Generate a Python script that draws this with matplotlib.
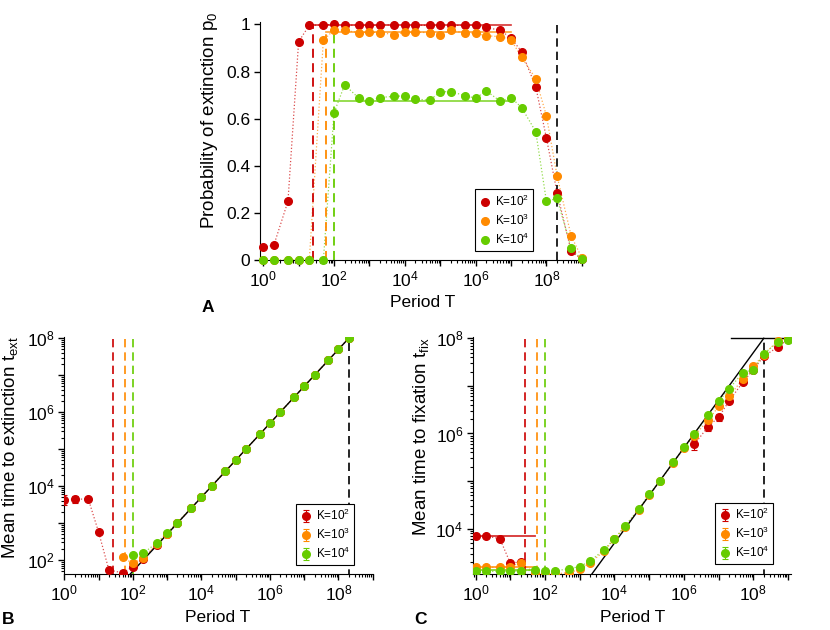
import numpy as np
import matplotlib
matplotlib.use('Agg')
from matplotlib import pyplot as plt
from matplotlib import ticker

plt.rcParams['font.family'] = ['Liberation Sans', 'DejaVu Sans']
plt.rcParams['mathtext.fontset'] = 'custom'
plt.rcParams['mathtext.rm'] = 'Liberation Sans'
plt.rcParams['mathtext.it'] = 'Liberation Sans:italic'
plt.rcParams['mathtext.default'] = 'regular'

nan = np.nan

# period grid
T = [1, 2, 5, 1e1, 2e1, 5e1, 1e2, 2e2, 5e2, 1e3, 2e3, 5e3, 1e4, 2e4, 5e4,
     1e5, 2e5, 5e5, 1e6, 2e6, 5e6, 1e7, 2e7, 5e7, 1e8, 2e8, 5e8, 1e9]

labels = ['K=10$^2$', 'K=10$^3$', 'K=10$^4$']
colors = ['#cc0000', '#ff8a00', '#66cc00']

# A: probability of extinction
p0_k2 = [0.055, 0.064, 0.25, 0.927, 0.996, 0.998, 1.0, 0.997, 0.997, 0.996, 0.997, 0.998, 0.997, 0.997,
         0.996, 0.996, 0.996, 0.996, 0.998, 0.987, 0.975, 0.942, 0.884, 0.735, 0.518, 0.286, 0.038, 0.004]
p0_k3 = [0, 0, 0, 0, 0, 0.933, 0.977, 0.975, 0.965, 0.967, 0.965, 0.957, 0.967, 0.967,
         0.965, 0.957, 0.975, 0.963, 0.962, 0.952, 0.948, 0.935, 0.86, 0.77, 0.612, 0.357, 0.103, 0.01]
p0_k4 = [0, 0, 0, 0, 0, 0, 0.625, 0.744, 0.687, 0.677, 0.69, 0.695, 0.697, 0.684,
         0.678, 0.714, 0.715, 0.698, 0.687, 0.718, 0.674, 0.69, 0.647, 0.545, 0.25, 0.262, 0.05, 0.003]
p0_plateau = [0.996, 0.967, 0.676]
plateau_T = [1e7, 1e7, 1e7]
dash_top = [1.0, 0.967, 0.96]

# critical periods (dashed lines)
T_crit = [26, 59, 100]
T_max = 2e8

# B: mean time to extinction
text_k2 = [4300, 4400, 4500, 570, 54, 45, 66, 110, 255, 500, 1000, 2500, 5000, 1.0e4,
           2.5e4, 5.0e4, 1.0e5, 2.5e5, 5.0e5, 1.0e6, 2.5e6, 5.0e6, 1.0e7, 2.5e7, 5.0e7, 1.0e8, nan, nan]
text_k2_err = [1300, 900, 450, 60, 5, 4, 6, 8, 15, 25, 40, 80, 150, 300,
               600, 1e3, 2e3, 5e3, 1e4, 2e4, 5e4, 1e5, 2e5, 5e5, 1e6, 2e6, nan, nan]
text_k3 = [nan, nan, nan, nan, nan, 118, 81, 112, 270, 510, 1020, 2550, 5050, 1.0e4,
           2.5e4, 5.0e4, 1.0e5, 2.5e5, 5.0e5, 1.0e6, 2.5e6, 5.0e6, 1.0e7, 2.5e7, 5.0e7, 1.0e8, nan, nan]
text_k3_err = [nan, nan, nan, nan, nan, 8, 6, 6, 10, 15, 25, 50, 100, 200,
               500, 1e3, 2e3, 5e3, 1e4, 2e4, 5e4, 1e5, 2e5, 5e5, 1e6, 2e6, nan, nan]
text_k4 = [nan, nan, nan, nan, nan, nan, 136, 152, 294, 548, 1030, 2600, 5100, 1.02e4,
           2.55e4, 5.1e4, 1.02e5, 2.5e5, 5.1e5, 1.0e6, 2.5e6, 5.1e6, 1.0e7, 2.5e7, 5.0e7, 1.0e8, nan, nan]
text_k4_err = [nan, nan, nan, nan, nan, nan, 6, 6, 10, 15, 25, 50, 100, 200,
               500, 1e3, 2e3, 5e3, 1e4, 2e4, 5e4, 1e5, 2e5, 5e5, 1e6, 2e6, nan, nan]
line_ext_T = [84, 2e8]
line_ext_t = [42, 1e8]

# C: mean time to fixation
tfix_k2 = [7200, 7000, 6200, 1900, 2000, nan, nan, nan, nan, nan, nan, nan, nan, nan,
           nan, nan, nan, nan, nan, 5.9e5, 1.4e6, 2.2e6, 4.8e6, 1.2e7, 2.2e7, 4.2e7, 6.5e7, 9.5e7]
tfix_k2_err = [300, 300, 300, 150, 150, nan, nan, nan, nan, nan, nan, nan, nan, nan,
               nan, nan, nan, nan, nan, 1.4e5, 2.5e5, 3.5e5, 5e5, 1e6, 2e6, 3e6, 4e6, 5e6]
tfix_k3 = [1550, 1550, 1550, 1600, 1950, 1180, 1130, 1130, 1200, 1400, 1900, 3400, 6000, 1.1e4,
           2.5e4, 5.0e4, 1.0e5, 2.4e5, 4.9e5, 9.0e5, 1.9e6, 3.7e6, 6.0e6, 1.4e7, 2.6e7, 4.5e7, 8.8e7, 1.06e8]
tfix_k3_err = [30, 30, 30, 40, 60, 30, 30, 30, 30, 40, 50, 80, 150, 300,
               600, 1e3, 2e3, 5e3, 1e4, 3e4, 6e4, 1e5, 2e5, 4e5, 8e5, 1.5e6, 2e6, 2e6]
tfix_k4 = [1270, 1270, 1270, 1270, 1290, 1350, 1300, 1300, 1450, 1600, 2100, 3600, 6200, 1.13e4,
           2.6e4, 5.3e4, 1.0e5, 2.5e5, 5.1e5, 9.8e5, 2.4e6, 4.7e6, 8.7e6, 1.9e7, 2.2e7, 4.7e7, 8.3e7, 9.3e7]
tfix_k4_err = [20, 20, 20, 20, 20, 30, 30, 30, 30, 40, 50, 80, 150, 300,
               600, 1e3, 2e3, 5e3, 1e4, 3e4, 6e4, 1e5, 2e5, 4e5, 6e5, 1.2e6, 2e6, 2e6]
tfix_small = [7000, 1550, 1350]
tfix_small_T = [1, 51]
line_fix_T = [2e3, 2e8]
line_fix_t = [1e3, 1e8]
cap_T = [2.3e7, 1.3e9]
cap_t = [1e8, 1e8]

tick_fs = 12.5
xl_fs = 12.5
yl_fs = 13.5
leg_fs = 8.5
ms = 5.5


def style_axis(ax, ylog=False):
    for s in ['top', 'right']:
        ax.spines[s].set_visible(False)
    ax.set_xscale('log')
    ax.xaxis.set_major_locator(ticker.FixedLocator([10.0 ** k for k in range(0, 10)]))
    ax.xaxis.set_minor_locator(ticker.LogLocator(base=10, subs=np.arange(2, 10), numticks=20))
    ax.xaxis.set_minor_formatter(ticker.NullFormatter())
    even = lambda v, pos: ('$10^{%d}$' % round(np.log10(v))) if round(np.log10(v)) % 2 == 0 else ''
    ax.xaxis.set_major_formatter(ticker.FuncFormatter(even))
    if ylog:
        ax.set_yscale('log')
        ax.yaxis.set_major_locator(ticker.FixedLocator([10.0 ** k for k in range(1, 10)]))
        ax.yaxis.set_minor_locator(ticker.LogLocator(base=10, subs=np.arange(2, 10), numticks=20))
        ax.yaxis.set_minor_formatter(ticker.NullFormatter())
        ax.yaxis.set_major_formatter(ticker.FuncFormatter(even))
    ax.tick_params(which='major', direction='out', length=4, width=1, labelsize=tick_fs, pad=3)
    ax.tick_params(which='minor', direction='out', length=2.5, width=0.8)
    ax.set_xlabel('Period T', fontsize=xl_fs)


def make_legend(ax, anchor):
    leg = ax.legend(loc='lower right', bbox_to_anchor=anchor, borderaxespad=0,
                    fontsize=leg_fs, handletextpad=0.3, handlelength=1.0, borderpad=0.35,
                    labelspacing=0.32, fancybox=False, edgecolor='k', framealpha=1)
    leg.get_frame().set_linewidth(0.8)
    return leg


fig = plt.figure(figsize=(8.3, 6.3), dpi=100)
axA = fig.add_axes([0.313, 0.587, 0.388, 0.378])
axB = fig.add_axes([0.0775, 0.0889, 0.3716, 0.3767])
axC = fig.add_axes([0.570, 0.0889, 0.3828, 0.3767])

# ---- panel A
style_axis(axA)
for p, c, lab in zip([p0_k2, p0_k3, p0_k4], colors, labels):
    axA.plot(T, p, ':', color=c, lw=0.9, alpha=0.7)
    axA.plot(T, p, 'o', color=c, ms=ms, label=lab, clip_on=False, zorder=3)
for tc, ph, c, te, dt in zip(T_crit, p0_plateau, colors, plateau_T, dash_top):
    axA.plot([tc, te], [ph, ph], '-', color=c, lw=1.2, alpha=0.8)
    axA.plot([tc, tc], [0, dt], '--', color=c, lw=1.3, dashes=(5, 3))
axA.plot([T_max, T_max], [0, 1], '--', color='k', lw=1.2, dashes=(5, 3))
axA.set_xlim(0.8, 1.0e9)
axA.set_ylim(0, 1.01)
axA.set_yticks([0, 0.2, 0.4, 0.6, 0.8, 1])
axA.set_yticklabels(['0', '0.2', '0.4', '0.6', '0.8', '1'])
axA.set_ylabel('Probability of extinction p$_0$', fontsize=yl_fs)
axA.yaxis.set_label_coords(-0.124, 0.588)
axA.xaxis.set_label_coords(0.506, -0.148)
make_legend(axA, (0.849, 0.039))

# ---- panel B
style_axis(axB, ylog=True)
for y, e, c, lab in zip([text_k2, text_k3, text_k4], [text_k2_err, text_k3_err, text_k4_err], colors, labels):
    axB.plot(T, y, ':', color=c, lw=0.9, alpha=0.7)
    axB.errorbar(T, y, yerr=e, fmt='o', color=c, ms=ms, capsize=2, elinewidth=0.8,
                 capthick=0.8, label=lab, zorder=3)
for tc, c in zip(T_crit, colors):
    axB.axvline(tc, color=c, ls='--', lw=1.2, dashes=(5, 3))
axB.plot(line_ext_T, line_ext_t, '-', color='k', lw=1.0)
axB.plot([T_max, T_max], [1, 1e8], '--', color='k', lw=1.2, dashes=(5, 3))
axB.set_xlim(1, 1e9)
axB.set_ylim(42, 1.1e8)
axB.set_ylabel('Mean time to extinction t$_{ext}$', fontsize=yl_fs)
axB.yaxis.set_label_coords(-0.144, 0.533)
axB.xaxis.set_label_coords(0.498, -0.152)
make_legend(axB, (0.940, 0.038))

# ---- panel C
style_axis(axC, ylog=True)
for y, e, c, lab in zip([tfix_k2, tfix_k3, tfix_k4], [tfix_k2_err, tfix_k3_err, tfix_k4_err], colors, labels):
    axC.plot(T, y, ':', color=c, lw=0.9, alpha=0.7)
    axC.errorbar(T, y, yerr=e, fmt='o', color=c, ms=ms, capsize=2, elinewidth=0.8,
                 capthick=0.8, label=lab, zorder=3)
for tf, c in zip(tfix_small, colors):
    axC.plot(tfix_small_T, [tf, tf], '-', color=c, lw=1.3, alpha=0.8)
for tc, c in zip(T_crit, colors):
    axC.axvline(tc, color=c, ls='--', lw=1.2, dashes=(5, 3))
axC.plot(line_fix_T, line_fix_t, '-', color='k', lw=1.0)
axC.plot(cap_T, cap_t, '-', color='k', lw=1.0)
axC.plot([T_max, T_max], [1, 1e8], '--', color='k', lw=1.2, dashes=(5, 3))
axC.set_xlim(0.85, 1.2e9)
axC.set_ylim(1.12e3, 1.08e8)
axC.set_ylabel('Mean time to fixation t$_{fix}$', fontsize=yl_fs)
axC.yaxis.set_label_coords(-0.131, 0.579)
axC.xaxis.set_label_coords(0.501, -0.152)
make_legend(axC, (0.944, 0.042))

fig.text(207.7 / 830, 1 - 307 / 630, 'A', fontsize=12.5, fontweight='bold', ha='center', va='center')
fig.text(8 / 830, 1 - 620 / 630, 'B', fontsize=12.5, fontweight='bold', ha='center', va='center')
fig.text(420.5 / 830, 1 - 620 / 630, 'C', fontsize=12.5, fontweight='bold', ha='center', va='center')

plt.savefig('out.png', dpi=100)
